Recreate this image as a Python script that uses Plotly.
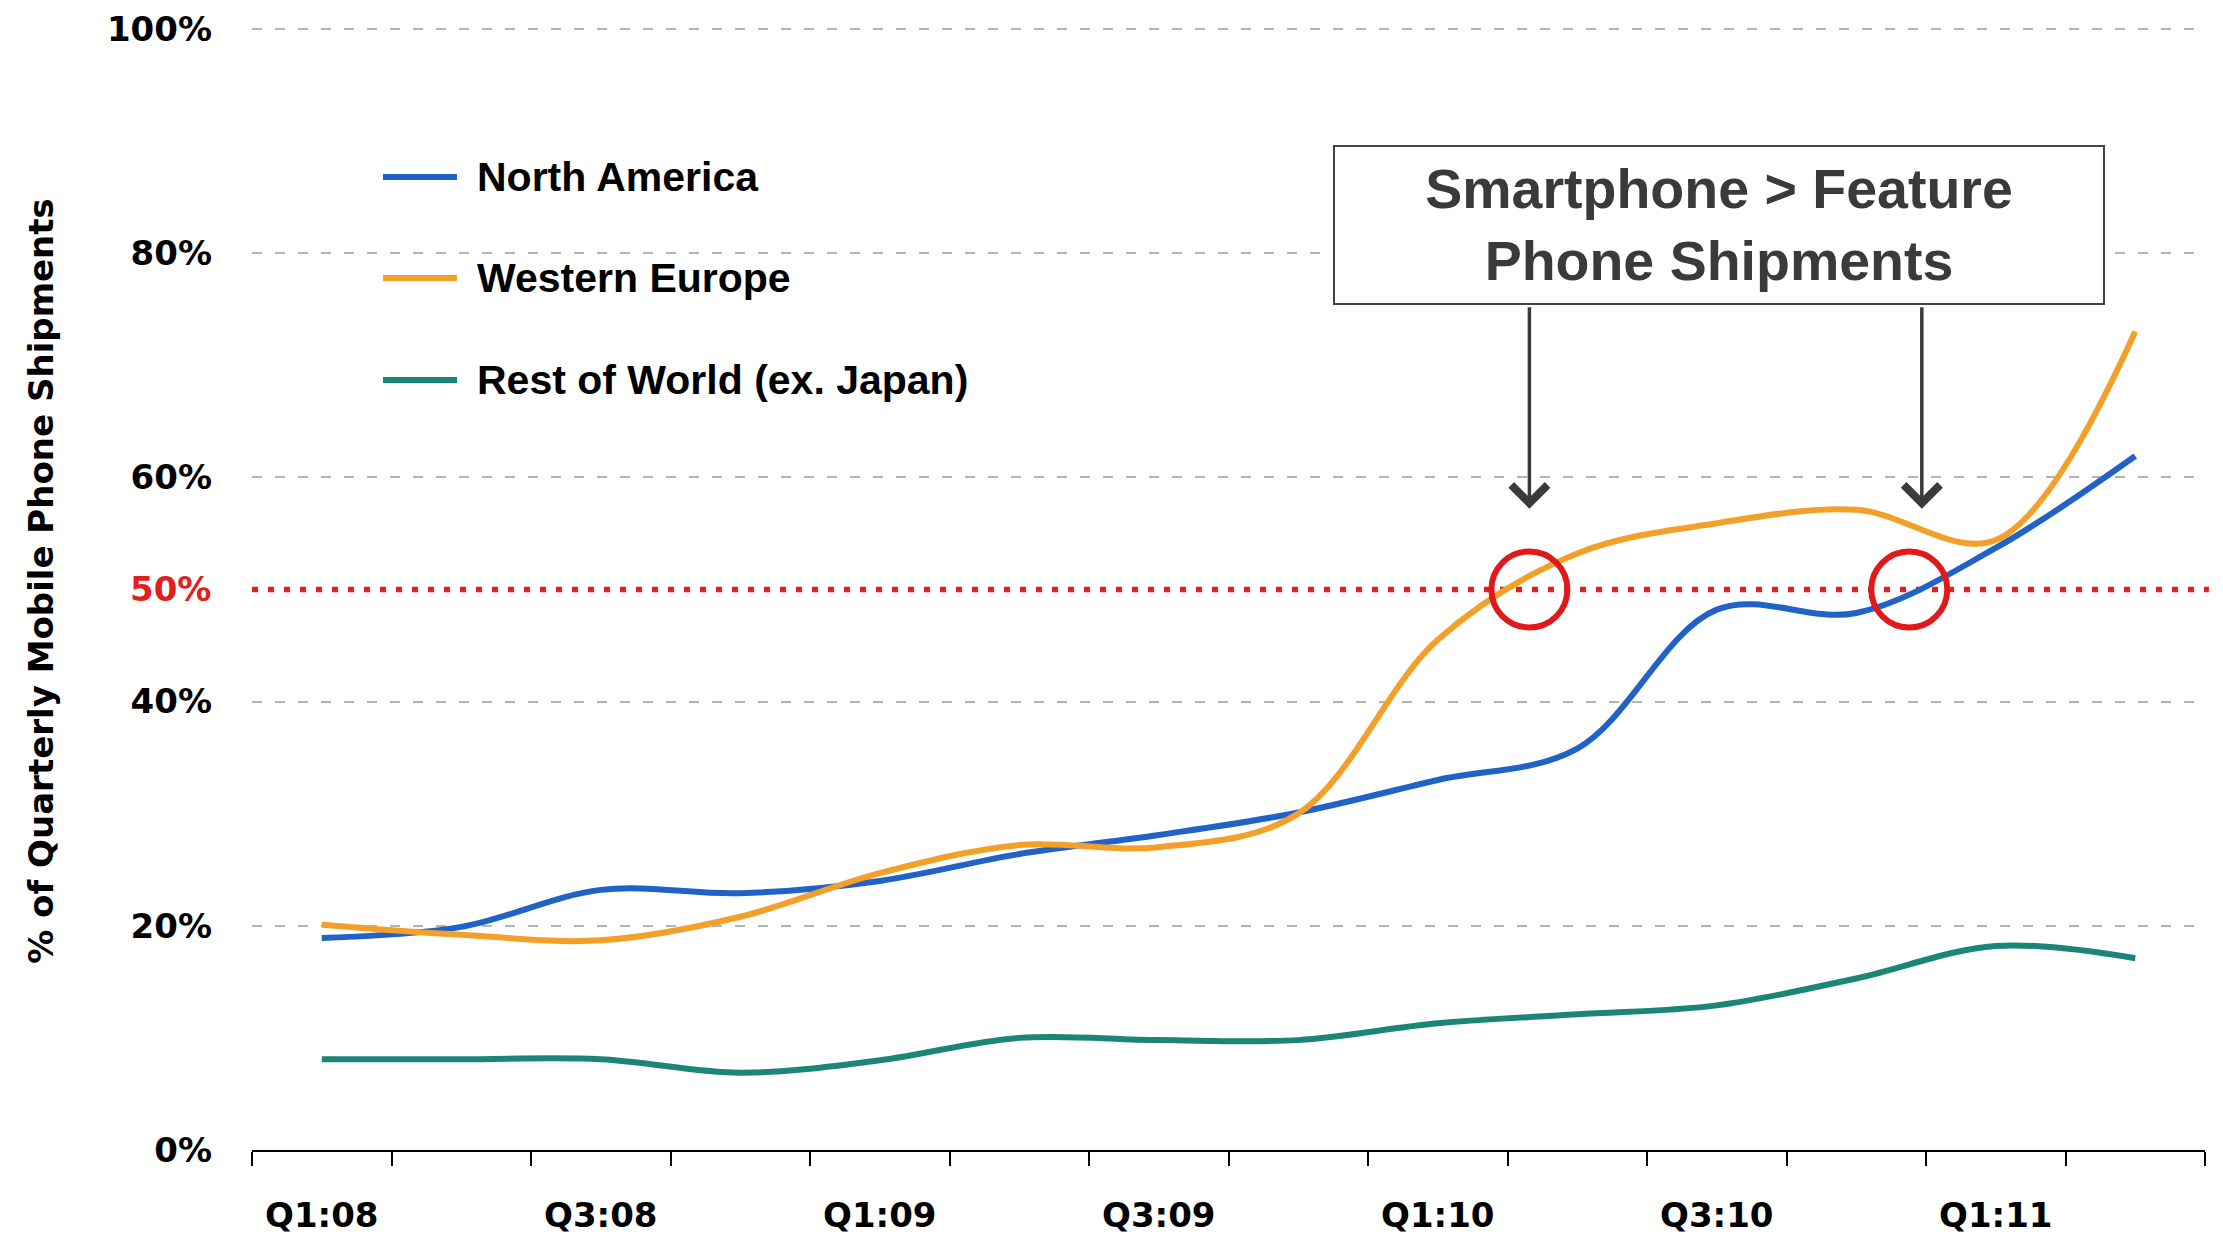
import plotly.graph_objects as go

quarters = ["Q1:08", "Q2:08", "Q3:08", "Q4:08", "Q1:09", "Q2:09", "Q3:09",
            "Q4:09", "Q1:10", "Q2:10", "Q3:10", "Q4:10", "Q1:11", "Q2:11"]
tick_labels = ["Q1:08", "", "Q3:08", "", "Q1:09", "", "Q3:09",
               "", "Q1:10", "", "Q3:10", "", "Q1:11", ""]

north_america = [18.9, 19.9, 23.2, 22.9, 24.0, 26.4, 28.1,
                 30.1, 33.0, 35.8, 48.2, 47.9, 53.7, 61.9]
western_europe = [20.1, 19.2, 18.7, 20.8, 24.7, 27.2, 27.0,
                  30.0, 45.5, 53.2, 55.9, 57.1, 54.4, 73.0]
rest_of_world = [8.1, 8.1, 8.1, 6.9, 8.0, 10.0, 9.8,
                 9.8, 11.3, 12.1, 12.9, 15.3, 18.2, 17.1]

y_ticks = [0, 20, 40, 60, 80, 100]
y_tick_text = ["0%", "20%", "40%", "60%", "80%", "100%"]
threshold = 50

series = [
    ("North America", north_america, "#2062c6"),
    ("Western Europe", western_europe, "#f3a02a"),
    ("Rest of World (ex. Japan)", rest_of_world, "#1b8578"),
]

# layout geometry (pixels); the page body adds an 8px offset
OFF = 8
W, H = 2223 - OFF, 1236 - OFF
ML, MR, MT, MB = 252 - OFF, 18, 12 - OFF, 86
PW, PH = W - ML - MR, H - MT - MB


def px_x(p):
    return (p - OFF - ML) / PW


def px_y(p):
    return (H - MB - (p - OFF)) / PH


TICK_FONT = dict(family="DejaVu Sans", size=34, color="black", weight="bold")
LEG_FONT = dict(family="Liberation Sans, Arial", size=41, color="black", weight="bold")

fig = go.Figure()
for name, vals, col in series:
    fig.add_trace(go.Scatter(
        x=quarters, y=vals, name=name, mode="lines",
        line=dict(color=col, width=6, shape="spline", smoothing=1.0),
        showlegend=False,
    ))

fig.update_layout(
    width=W, height=H, autosize=False,
    margin=dict(l=ML, r=MR, t=MT, b=MB),
    paper_bgcolor="white", plot_bgcolor="white",
    showlegend=False,
    xaxis=dict(
        type="category", range=[-0.5, 13.5], automargin=False,
        tickmode="array", tickvals=quarters, ticktext=tick_labels,
        tickson="boundaries", ticks="outside", ticklen=14, tickwidth=2,
        tickcolor="black", showline=True, linecolor="black", linewidth=2,
        showgrid=False, zeroline=False, tickfont=TICK_FONT,
        ticklabelstandoff=34,
    ),
    yaxis=dict(
        range=[0, 101.5], automargin=False,
        tickmode="array", tickvals=y_ticks, ticktext=y_tick_text,
        showgrid=True, gridcolor="#b4b4b4", griddash="10px,13px", gridwidth=2,
        zeroline=False, showline=False, ticks="", tickfont=TICK_FONT,
        ticklabelstandoff=39,
        title=dict(text="% of Quarterly Mobile Phone Shipments",
                   font=dict(family="DejaVu Sans", size=34, color="black", weight="bold"),
                   standoff=43),
    ),
)

# legend drawn as line samples + text (long line samples as in the original)
legend_rows_px = [177, 278, 380]
for (name, vals, col), row in zip(series, legend_rows_px):
    fig.add_shape(type="line", xref="paper", yref="paper",
                  x0=px_x(383), x1=px_x(457), y0=px_y(row), y1=px_y(row),
                  line=dict(color=col, width=6), layer="above")
    fig.add_annotation(xref="paper", yref="paper", x=px_x(475), y=px_y(row),
                       xanchor="left", yanchor="middle", text=name, showarrow=False,
                       font=LEG_FONT)

# 50% threshold dotted line
fig.add_shape(type="line", xref="paper", x0=0, x1=1.002, yref="y", y0=threshold, y1=threshold,
              line=dict(color="#e0201c", width=5.5, dash="6px,10px"), layer="between")
# white area behind legend hides the gridline there
fig.add_shape(type="rect", xref="paper", x0=px_x(337), x1=px_x(1018), yref="y", y0=78, y1=82,
              fillcolor="white", line=dict(width=0), layer="between")

# red 50% label
fig.add_annotation(xref="paper", x=0, xanchor="right", xshift=-39, yref="y", y=threshold,
                   text="50%", showarrow=False,
                   font=dict(family="DejaVu Sans", size=34, color="#e0201c", weight="bold"))

# callout box
fig.add_annotation(xref="paper", x=px_x(1719), yref="paper", y=px_y(225),
                   xanchor="center", yanchor="middle",
                   text="Smartphone > Feature<br>Phone Shipments", showarrow=False,
                   font=dict(family="Liberation Sans, Arial", size=55.5, color="#3a3a3a",
                             weight="bold"),
                   bgcolor="white", bordercolor="#444444", borderwidth=2, borderpad=0,
                   width=768, height=156)

# arrows and circles at the crossing points
for cx, ax_x in [(8.657, 8.657), (11.38, 11.47)]:
    fig.add_annotation(xref="x", x=ax_x, yref="y", y=57.2, ax=0, ay=-203, text="",
                       showarrow=True, arrowhead=4, arrowsize=2.0, arrowwidth=3.5,
                       arrowcolor="#3a3a3a", standoff=0)
    fig.add_shape(type="circle", xref="x", yref="y", xsizemode="pixel", ysizemode="pixel",
                  xanchor=cx, yanchor=threshold, x0=-38, x1=38, y0=-38, y1=38,
                  line=dict(color="#e01a1a", width=6), layer="above")

fig.write_html("out.html")
